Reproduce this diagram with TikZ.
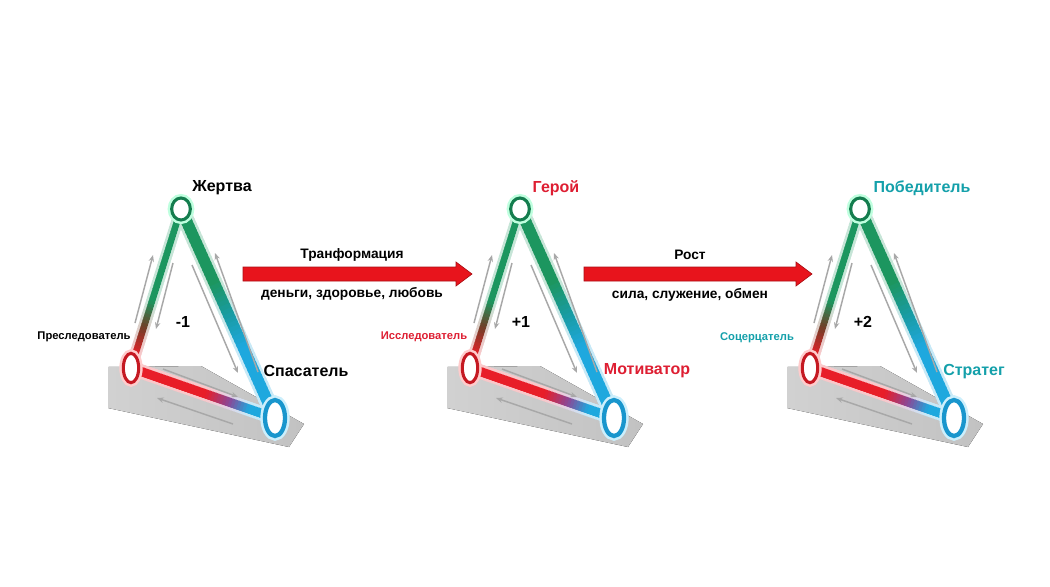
\documentclass[tikz,border=0pt]{standalone}
\usepackage{fontspec}
\setmainfont{Liberation Sans}
\usetikzlibrary{shapes.geometric,arrows.meta,calc}
\definecolor{tgreen}{RGB}{28,150,95}
\definecolor{tgreendark}{RGB}{20,125,78}
\definecolor{tblue}{RGB}{30,168,222}
\definecolor{tbluedark}{RGB}{25,150,205}
\definecolor{tred}{RGB}{232,30,40}
\definecolor{tbrown}{RGB}{110,65,40}
\definecolor{tteal}{RGB}{25,155,160}
\definecolor{tpurple}{RGB}{140,70,150}
\definecolor{labred}{RGB}{222,30,50}
\definecolor{labteal}{RGB}{20,160,170}
\definecolor{arrowred}{RGB}{232,20,28}
\definecolor{arrowdark}{RGB}{170,15,20}
\definecolor{arrowgray}{RGB}{168,168,168}
\tikzset{
  topell/.style={ellipse, draw=tgreendark, fill=white, line width=2.3pt,
    minimum width=14pt, minimum height=16.5pt, inner sep=0pt,
    preaction={draw=green!50!cyan!25, line width=6pt}},
  leftell/.style={ellipse, draw=tred!85!black, fill=white, line width=2.3pt,
    minimum width=11.5pt, minimum height=22pt, inner sep=0pt,
    preaction={draw=red!20, line width=6pt}},
  rightell/.style={ellipse, draw=tbluedark, fill=white, line width=3.2pt,
    minimum width=15pt, minimum height=27pt, inner sep=0pt,
    preaction={draw=cyan!20, line width=7pt}},
  platform/.style={left color=gray!36, right color=gray!48},
  grayarr/.style={draw=arrowgray, line width=1.1pt, -{Stealth[length=5pt,width=4pt]}},
  biglab/.style={font=\bfseries\fontsize{12}{14}\selectfont, inner sep=0pt},
  numlab/.style={font=\bfseries\fontsize{12}{14}\selectfont, inner sep=0pt},
  smalllab/.style={font=\bfseries\fontsize{8.4}{10}\selectfont, inner sep=0pt},
  arrlab/.style={font=\bfseries\fontsize{10.3}{12}\selectfont, inner sep=0pt},
  bigarrowst/.style={fill=arrowred, draw=arrowdark, line width=0.5pt, line join=miter}
}
\newif\ifglowmode
% gradient edge: #1 from, #2 to, #3 width (pt number), #4 c1, #5 s1, #6 c2, #7 s2, #8 c3, #9 s3
\newcommand\gradedge[9]{%
  \foreach \i in {0,...,49}{%
    \pgfmathsetmacro\ta{\i/50}%
    \pgfmathsetmacro\tb{min((\i+1.5)/50,1)}%
    \pgfmathsetmacro\tm{(\i+0.5)/50}%
    \pgfmathsetmacro\pa{\tm<#7 ? max(0,min(100,100*(#7-\tm)/(#7-#5))) : -1}%
    \ifdim\pa pt<0pt
      \pgfmathsetmacro\pb{max(0,min(100,100*(#9-\tm)/(#9-#7)))}%
      \colorlet{segc}{#6!\pb!#8}%
    \else
      \colorlet{segc}{#4!\pa!#6}%
    \fi
    \ifglowmode
      \pgfmathsetmacro\gw{#3+4}%
      \draw[line width=\gw pt, segc!25] ($(#1)!\ta!(#2)$) -- ($(#1)!\tb!(#2)$);
    \else
      \draw[line width=#3pt, segc] ($(#1)!\ta!(#2)$) -- ($(#1)!\tb!(#2)$);
    \fi
  }%
}
\newcommand\alledges{%
  \foreach \k in {1,2,3}{%
    \gradedge{top\k}{left\k}{4.8}{tgreen}{0.58}{tbrown}{0.74}{tred}{0.92}%
    \gradedge{top\k}{right\k}{8.5}{tgreen}{0.35}{tteal}{0.5}{tblue}{0.66}%
    \gradedge{left\k}{right\k}{6.8}{tred}{0.52}{tpurple}{0.68}{tblue}{0.82}%
  }%
}
\newcommand\bigredarrow[2]{%
  \filldraw[bigarrowst] ($(#1)+(0,-7)$) -- ($(#2)+(-16,-7)$) -- ($(#2)+(-16,-12)$) -- (#2)
    -- ($(#2)+(-16,12)$) -- ($(#2)+(-16,7)$) -- ($(#1)+(0,7)$) -- cycle;
}
\begin{document}
\begin{tikzpicture}[x=0.75pt,y=-0.75pt]
\useasboundingbox (0,0) rectangle (1050,586);
\fill[white] (0,0) rectangle (1050,586);
% positions and platforms
\foreach \k/\dx in {1/0,2/339,3/679}{
  \begin{scope}[shift={(\dx,0)}]
    \coordinate (top\k) at (181,209);
    \coordinate (left\k) at (131,368);
    \coordinate (right\k) at (275,418);
    \fill[platform] (108,367) -- (201,366) -- (304,424) -- (289,447) -- (108,408) -- cycle;
  \end{scope}
}
% glow, then edges
\glowmodetrue
\alledges
\glowmodefalse
\alledges
% vertex rings and gray arrows
\foreach \k/\dx in {1/0,2/339,3/679}{
  \begin{scope}[shift={(\dx,0)}]
    \node[topell] (ntop\k) at (top\k) {};
    \node[leftell] (nleft\k) at (left\k) {};
    \node[rightell] (nright\k) at (right\k) {};
    \coordinate (ga\k) at (135,323); \coordinate (gb\k) at (153,255);
    \coordinate (gc\k) at (173,263); \coordinate (gd\k) at (156,329);
    \coordinate (ge\k) at (192,265); \coordinate (gf\k) at (238,373);
    \coordinate (gg\k) at (258,372); \coordinate (gh\k) at (215,253);
    \coordinate (gi\k) at (163,369); \coordinate (gj\k) at (238,397);
    \coordinate (gk\k) at (233,424); \coordinate (gl\k) at (157,398);
    \draw[grayarr] (ga\k) -- (gb\k);
    \draw[grayarr] (gc\k) -- (gd\k);
    \draw[grayarr] (ge\k) -- (gf\k);
    \draw[grayarr] (gg\k) -- (gh\k);
    \draw[grayarr] (gi\k) -- (gj\k);
    \draw[grayarr] (gk\k) -- (gl\k);
  \end{scope}
}
% labels triangle 1
\node[biglab] (l1a) at (222,188) {Жертва};
\node[smalllab] (l1b) at (84,337) {Преследователь};
\node[numlab] (l1c) at (183,322) {-1};
\node[biglab] (l1d) at (306,371) {Спасатель};
% labels triangle 2
\node[biglab, text=labred] (l2a) at (556,188) {Герой};
\node[smalllab, text=labred] (l2b) at (424,337) {Исследователь};
\node[numlab] (l2c) at (521,322) {+1};
\node[biglab, text=labred] (l2d) at (647,371) {Мотиватор};
% labels triangle 3
\node[biglab, text=labteal] (l3a) at (922,188) {Победитель};
\node[smalllab, text=labteal] (l3b) at (757,338) {Соцерцатель};
\node[numlab] (l3c) at (863,322) {+2};
\node[biglab, text=labteal] (l3d) at (974,372) {Стратег};
% big arrows
\coordinate (ar1s) at (243,274); \coordinate (ar1e) at (472,274);
\coordinate (ar2s) at (584,274); \coordinate (ar2e) at (812,274);
\bigredarrow{ar1s}{ar1e}
\bigredarrow{ar2s}{ar2e}
\node[arrlab] (t1) at (352,255) {Транформация};
\node[arrlab] (t2) at (352,294) {деньги, здоровье, любовь};
\node[arrlab] (t3) at (690,255) {Рост};
\node[arrlab] (t4) at (690,295) {сила, служение, обмен};
\end{tikzpicture}
\end{document}
